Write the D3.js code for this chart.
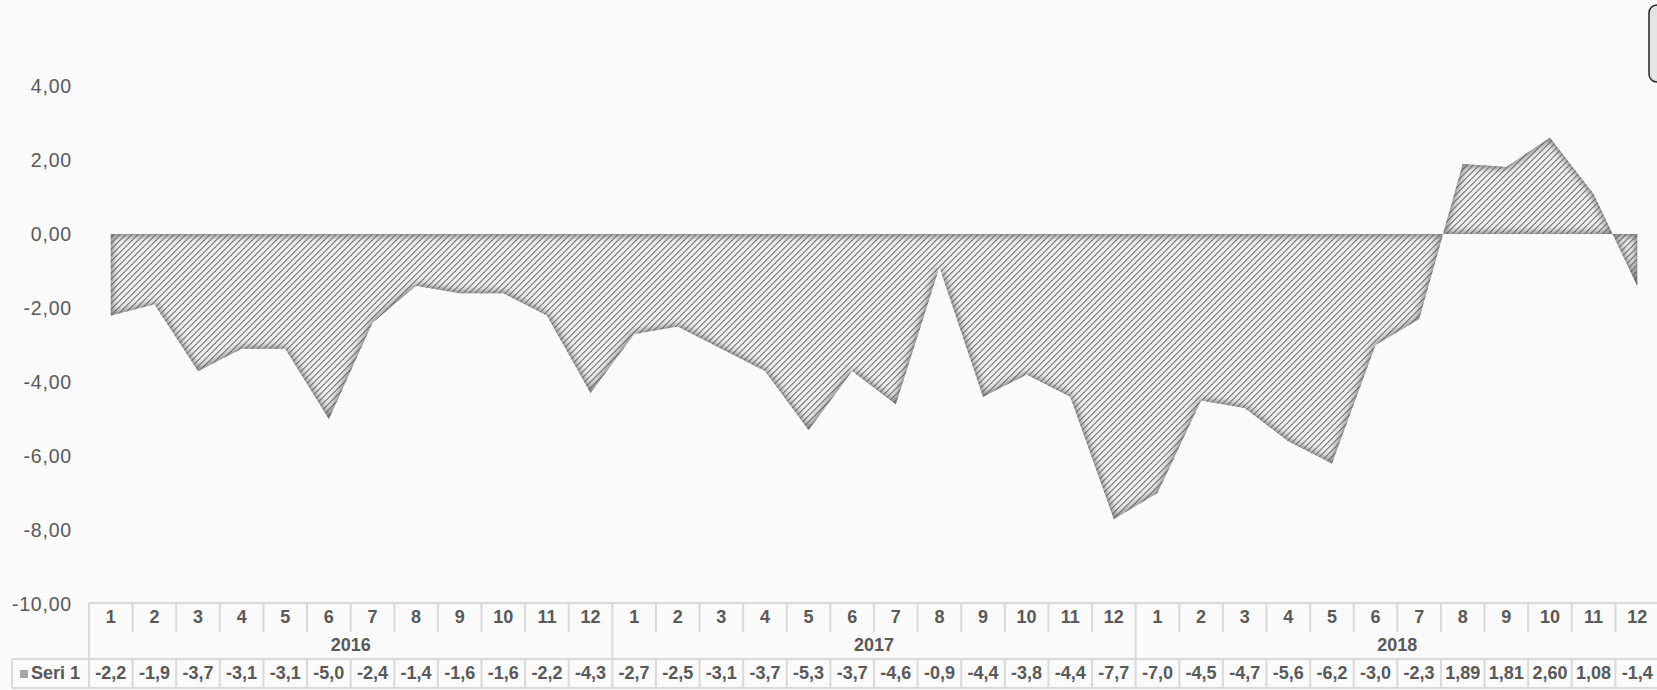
<!DOCTYPE html>
<html>
<head>
<meta charset="utf-8">
<script src="https://cdn.jsdelivr.net/npm/d3@7"></script>
<style>
  html, body { margin: 0; padding: 0; background: #fafafa; }
  svg { display: block; font-family: "Liberation Sans", Arial, sans-serif; }
</style>
</head>
<body>
<div id="chart"></div>
<script>
var years = ["2016", "2017", "2018"];
var months = ["1", "2", "3", "4", "5", "6", "7", "8", "9", "10", "11", "12"];
var seriesName = "Seri 1";
var values2016 = [-2.2, -1.9, -3.7, -3.1, -3.1, -5.0, -2.4, -1.4, -1.6, -1.6, -2.2, -4.3];
var values2017 = [-2.7, -2.5, -3.1, -3.7, -5.3, -3.7, -4.6, -0.9, -4.4, -3.8, -4.4, -7.7];
var values2018 = [-7.0, -4.5, -4.7, -5.6, -6.2, -3.0, -2.3, 1.89, 1.81, 2.60, 1.08, -1.4];
var yTicks = [-10, -8, -6, -4, -2, 0, 2, 4];

var width = 1657, height = 690;

// flatten year x month into one row of cells
var cells = [];
[values2016, values2017, values2018].forEach(function (vals, yi) {
    vals.forEach(function (v, mi) {
        cells.push({ year: years[yi], month: months[mi], value: v, idx: yi * 12 + mi });
    });
});

var svg = d3.select("#chart").append("svg")
    .attr("width", width)
    .attr("height", height);

var defs = svg.append("defs");

// upward diagonal hatch
var pat = defs.append("pattern")
    .attr("id", "hatch")
    .attr("patternUnits", "userSpaceOnUse")
    .attr("width", 6).attr("height", 6);
pat.append("rect").attr("width", 6).attr("height", 6).attr("fill", "#ededed");
d3.range(6).forEach(function (i) {
    pat.append("rect").attr("x", 5 - i).attr("y", i).attr("width", 1).attr("height", 1)
        .attr("fill", "#848484").attr("shape-rendering", "crispEdges");
    pat.append("rect").attr("x", (6 - i) % 6).attr("y", i).attr("width", 1).attr("height", 1)
        .attr("fill", "#a6a6a6").attr("shape-rendering", "crispEdges");
});

// inner shadow along the edges of the area
var f = defs.append("filter")
    .attr("id", "inner")
    .attr("filterUnits", "userSpaceOnUse")
    .attr("x", 0).attr("y", 0).attr("width", width).attr("height", height);
f.append("feFlood").attr("flood-color", "#6a6a6a").attr("result", "c");
f.append("feComposite").attr("in", "c").attr("in2", "SourceAlpha").attr("operator", "out").attr("result", "inv");
f.append("feGaussianBlur").attr("in", "inv").attr("stdDeviation", 4.5).attr("result", "blur");
f.append("feComposite").attr("in", "blur").attr("in2", "SourceAlpha").attr("operator", "in").attr("result", "shadow");
var m = f.append("feMerge");
m.append("feMergeNode").attr("in", "SourceGraphic");
m.append("feMergeNode").attr("in", "shadow");
m.append("feMergeNode").attr("in", "shadow");

var x = d3.scaleBand()
    .domain(cells.map(function (d) { return d.idx; }))
    .range([89, 1659]);

var y = d3.scaleLinear()
    .domain([-10, 6])
    .range([604, 12]);

var locale = d3.formatLocale({ decimal: ",", thousands: ".", grouping: [3], currency: ["", ""], minus: "-" });
var f2 = locale.format(".2f"), f1 = locale.format(".1f");

// y axis
var yAxis = svg.append("g")
    .attr("transform", "translate(72,0)")
    .call(d3.axisLeft(y).tickValues(yTicks).tickSize(0).tickPadding(0).tickFormat(f2));
yAxis.select(".domain").remove();
yAxis.selectAll("text")
    .attr("fill", "#595959")
    .style("font-size", "19.5px")
    .style("letter-spacing", "0.8px")
    .style("font-family", "Liberation Sans, Arial, sans-serif");

// area
var area = d3.area()
    .x(function (d) { return x(d.idx) + x.bandwidth() / 2; })
    .y0(y(0))
    .y1(function (d) { return y(d.value); });

svg.append("path")
    .datum(cells)
    .attr("d", area)
    .attr("fill", "url(#hatch)")
    .attr("filter", "url(#inner)");

// data table under the plot
var grid = "#d9d9d9";
var tbl = svg.append("g").attr("stroke", grid).attr("stroke-width", 2);
var xEnd = x.range()[1];

tbl.append("line").attr("x1", 89).attr("x2", xEnd).attr("y1", 603).attr("y2", 603);
tbl.append("line").attr("x1", 12).attr("x2", xEnd).attr("y1", 659).attr("y2", 659);
tbl.append("line").attr("x1", 12).attr("x2", xEnd).attr("y1", 688).attr("y2", 688);
tbl.append("line").attr("x1", 12).attr("x2", 12).attr("y1", 659).attr("y2", 688);

tbl.selectAll(".msep")
    .data(cells.filter(function (d) { return d.idx % 12 !== 0; }))
    .enter().append("line")
    .attr("x1", function (d) { return x(d.idx); })
    .attr("x2", function (d) { return x(d.idx); })
    .attr("y1", 603).attr("y2", 632);

tbl.selectAll(".ysep")
    .data(cells.filter(function (d) { return d.idx % 12 === 0; }))
    .enter().append("line")
    .attr("x1", function (d) { return x(d.idx); })
    .attr("x2", function (d) { return x(d.idx); })
    .attr("y1", 603).attr("y2", 659);

tbl.selectAll(".vsep")
    .data(cells)
    .enter().append("line")
    .attr("x1", function (d) { return x(d.idx); })
    .attr("x2", function (d) { return x(d.idx); })
    .attr("y1", 659).attr("y2", 688);

var txt = svg.append("g")
    .attr("fill", "#595959")
    .style("font-size", "18px")
    .style("font-weight", "bold")
    .attr("text-anchor", "middle");

txt.selectAll(".mlab")
    .data(cells)
    .enter().append("text")
    .attr("x", function (d) { return x(d.idx) + x.bandwidth() / 2; })
    .attr("y", 617)
    .attr("dy", "0.35em")
    .text(function (d) { return d.month; });

txt.selectAll(".ylab")
    .data(years)
    .enter().append("text")
    .attr("x", function (d, i) { return (x(i * 12) + x(i * 12 + 11) + x.bandwidth()) / 2; })
    .attr("y", 645)
    .attr("dy", "0.35em")
    .text(function (d) { return d; });

txt.selectAll(".vlab")
    .data(cells)
    .enter().append("text")
    .attr("x", function (d) { return x(d.idx) + x.bandwidth() / 2; })
    .attr("y", 673)
    .attr("dy", "0.35em")
    .text(function (d) { return d.value < 0 ? f1(d.value) : f2(d.value); });

// series key
svg.append("rect")
    .attr("x", 20).attr("y", 670).attr("width", 8).attr("height", 8)
    .attr("fill", "#a6a6a6");
txt.append("text")
    .attr("x", 31).attr("y", 673)
    .attr("dy", "0.35em")
    .attr("text-anchor", "start")
    .text(seriesName);

// clipped box at top right
svg.append("rect")
    .attr("x", 1649).attr("y", 5).attr("width", 40).attr("height", 77)
    .attr("rx", 8)
    .attr("fill", "#e4e4e4")
    .attr("stroke", "#222")
    .attr("stroke-width", 1.5);
</script>
</body>
</html>
